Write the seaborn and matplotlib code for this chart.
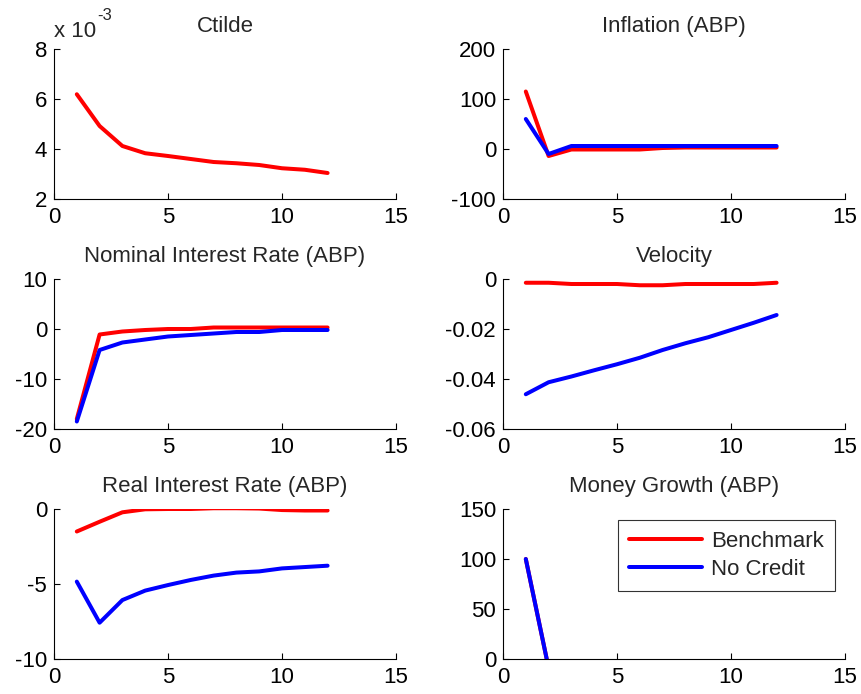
import numpy as np
import pandas as pd
import matplotlib
matplotlib.use("Agg")
import matplotlib.pyplot as plt
from matplotlib.lines import Line2D
import seaborn as sns

# Impulse responses over a 12-period horizon
periods = list(range(1, 13))

ctilde_bench = [6.19, 4.92, 4.12, 3.83, 3.72, 3.60, 3.48, 3.43, 3.36, 3.23, 3.17, 3.04]  # x 10^-3

inflation_bench = [115, -14, -1, -1, -1, -1, 2, 3, 3, 3, 3, 3]
inflation_nocredit = [60, -10, 6, 6, 6, 6, 6, 6, 6, 6, 6, 6]

nominal_bench = [-18.0, -1.1, -0.5, -0.2, 0.0, 0.0, 0.3, 0.3, 0.3, 0.3, 0.3, 0.3]
nominal_nocredit = [-18.5, -4.2, -2.7, -2.1, -1.5, -1.2, -0.9, -0.6, -0.6, -0.2, -0.2, -0.2]

velocity_bench = [-0.0015, -0.0015, -0.002, -0.002, -0.002, -0.0025, -0.0025,
                  -0.002, -0.002, -0.002, -0.002, -0.0015]
velocity_nocredit = [-0.0461, -0.0413, -0.0390, -0.0365, -0.0341, -0.0315, -0.0284,
                     -0.0257, -0.0233, -0.0204, -0.0175, -0.0144]

real_bench = [-1.5, -0.85, -0.22, -0.02, 0.0, 0.0, 0.05, 0.05, 0.03, -0.07, -0.1, -0.1]
real_nocredit = [-4.84, -7.58, -6.07, -5.44, -5.07, -4.73, -4.44, -4.24, -4.16, -3.96, -3.87, -3.78]

money_bench = [100, -9, -5, -5, -5, -5, -5, -5, -5, -5, -5, -5]
money_nocredit = [100, -9, -5, -5, -5, -5, -5, -5, -5, -5, -5, -5]

series_names = ["Benchmark", "No Credit"]
colors = {"Benchmark": (1, 0, 0), "No Credit": (0, 0, 1)}

panels = [
    ("Ctilde", {"Benchmark": ctilde_bench}, (2, 8), [2, 4, 6, 8], ["2", "4", "6", "8"]),
    ("Inflation (ABP)", {"Benchmark": inflation_bench, "No Credit": inflation_nocredit},
     (-100, 200), [-100, 0, 100, 200], ["-100", "0", "100", "200"]),
    ("Nominal Interest Rate (ABP)", {"Benchmark": nominal_bench, "No Credit": nominal_nocredit},
     (-20, 10), [-20, -10, 0, 10], ["-20", "-10", "0", "10"]),
    ("Velocity", {"Benchmark": velocity_bench, "No Credit": velocity_nocredit},
     (-0.06, 0), [-0.06, -0.04, -0.02, 0], ["-0.06", "-0.04", "-0.02", "0"]),
    ("Real Interest Rate (ABP)", {"Benchmark": real_bench, "No Credit": real_nocredit},
     (-10, 0), [-10, -5, 0], ["-10", "-5", "0"]),
    ("Money Growth (ABP)", {"Benchmark": money_bench, "No Credit": money_nocredit},
     (0, 150), [0, 50, 100, 150], ["0", "50", "100", "150"]),
]

sns.set_style("ticks")
plt.rcParams["font.family"] = ["Liberation Sans", "DejaVu Sans"]
FS = 16

fig = plt.figure(figsize=(8.62, 6.94), dpi=100)
W, H = 862, 694
col_left = [54, 503]
row_top = [49, 279, 509]
ax_w, ax_h = 342, 150

lw = 4 * 72 / 100  # 4 px lines

axes = []
for i, (title, data, ylim, yticks, ylabels) in enumerate(panels):
    r, c = divmod(i, 2)
    left = col_left[c] / W
    bottom = 1 - (row_top[r] + ax_h) / H
    ax = fig.add_axes([left, bottom, ax_w / W, ax_h / H])
    frames = []
    for name in series_names:
        if name in data:
            frames.append(pd.DataFrame({"period": periods, "value": data[name], "series": name}))
    df = pd.concat(frames, ignore_index=True)
    sns.lineplot(data=df, x="period", y="value", hue="series", palette=colors,
                 hue_order=[n for n in series_names if n in data],
                 linewidth=lw, legend=False, ax=ax, estimator=None, sort=False)
    ax.set_xlim(0, 15)
    ax.set_ylim(*ylim)
    ax.set_xticks([0, 5, 10, 15])
    ax.set_xticklabels(["0", "5", "10", "15"])
    ax.set_yticks(yticks)
    ax.set_yticklabels(ylabels)
    ax.set_xlabel("")
    ax.set_ylabel("")
    ax.set_title(title, fontsize=FS, pad=12)
    ax.tick_params(direction="in", length=4, width=0.8, labelsize=FS, colors="black")
    ax.tick_params(axis="x", pad=6)
    ax.tick_params(axis="y", pad=5)
    for s in ("top", "right"):
        ax.spines[s].set_visible(False)
    for s in ("left", "bottom"):
        ax.spines[s].set_linewidth(0.8)
        ax.spines[s].set_color("black")
    axes.append(ax)

# scale factor label for the Ctilde panel
axes[0].text(0.0, 1.08, "x 10", transform=axes[0].transAxes, fontsize=FS,
             ha="left", va="baseline")
axes[0].text(0.126, 1.193, "-3", transform=axes[0].transAxes, fontsize=FS * 0.75,
             ha="left", va="baseline")

# legend in the Money Growth panel
handles = [Line2D([], [], color=colors[n], linewidth=lw) for n in series_names]
leg = axes[5].legend(handles, series_names, loc="upper right", fontsize=FS,
                     bbox_to_anchor=(0.971, 0.927), frameon=True, fancybox=False,
                     edgecolor="black", handlelength=3.3, handletextpad=0.4,
                     borderpad=0.5, labelspacing=0.3, borderaxespad=0)
leg.get_frame().set_linewidth(0.8)

fig.savefig("out.png", dpi=100)
